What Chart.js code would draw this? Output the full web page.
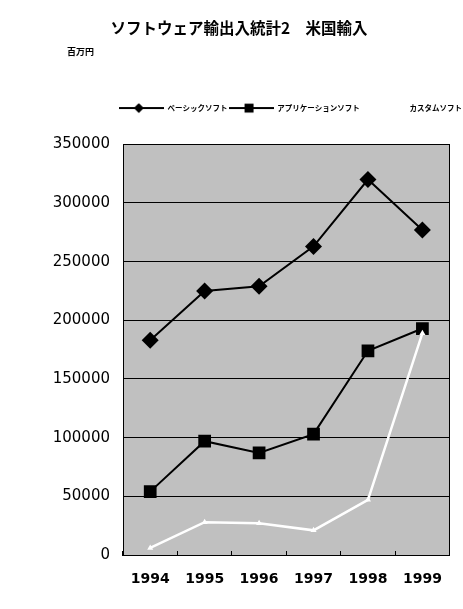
<!DOCTYPE html>
<html lang="ja">
<head>
<meta charset="utf-8">
<title>ソフトウェア輸出入統計2 米国輸入</title>
<script src="https://cdn.jsdelivr.net/npm/chart.js@4.4.1/dist/chart.umd.min.js"></script>
<style>
  html, body { margin: 0; padding: 0; background: #fff; }
  #wrap { position: relative; width: 463px; height: 609px; }
  #unit { position: absolute; left: 67px; top: 47px; font: bold 9px/10px 'Noto Sans CJK JP'; color: #000; }
</style>
</head>
<body>
<div id="wrap">
  <canvas id="chart" width="463" height="609"></canvas>
  <div id="unit">百万円</div>
</div>
<script>
// 年 (横軸)
const years = ['1994', '1995', '1996', '1997', '1998', '1999'];

// 米国輸入 (百万円) - グラフから読み取った値
const basicSoft = [183000, 225000, 229000, 263000, 320000, 277000];
const appSoft = [54000, 97000, 87000, 103000, 174000, 193000];
const customSoft = [6000, 28000, 27000, 21000, 47000, 189000];

const seriesNames = ['ベーシックソフト', 'アプリケーションソフト', 'カスタムソフト'];

const jpFont = "'Noto Sans CJK JP'";
const numFont = "'DejaVu Sans'";

// 凡例用: 線 + マーカーの小さな画像
function legendLine(color, marker) {
    const c = document.createElement('canvas');
    c.width = 45;
    c.height = 14;
    const ctx = c.getContext('2d');
    ctx.strokeStyle = color;
    ctx.fillStyle = color;
    ctx.lineWidth = 2;
    ctx.beginPath();
    ctx.moveTo(0, 7);
    ctx.lineTo(45, 7);
    ctx.stroke();
    if (marker === 'diamond') {
        ctx.beginPath();
        ctx.moveTo(20, 2);
        ctx.lineTo(25, 7);
        ctx.lineTo(20, 12);
        ctx.lineTo(15, 7);
        ctx.closePath();
        ctx.fill();
    } else if (marker === 'square') {
        ctx.fillRect(16, 2.5, 9, 9);
    }
    return c;
}

const legendImages = [
    legendLine('#000', 'diamond'),
    legendLine('#000', 'square'),
    legendLine('#fff', 'none')
];

// プロットエリアの灰色背景
const plotBackground = {
    id: 'plotBackground',
    beforeDraw(chart) {
        const { ctx, chartArea: a } = chart;
        ctx.save();
        ctx.fillStyle = '#c0c0c0';
        ctx.fillRect(a.left, a.top, a.right - a.left, a.bottom - a.top);
        ctx.restore();
    }
};

new Chart(document.getElementById('chart'), {
    type: 'line',
    data: {
        labels: years,
        datasets: [
            {
                label: seriesNames[0],
                data: basicSoft,
                borderColor: '#000',
                backgroundColor: '#000',
                borderWidth: 2,
                tension: 0,
                pointStyle: 'rectRot',
                pointRadius: 8.5,
                pointBorderWidth: 0,
                order: 2
            },
            {
                label: seriesNames[1],
                data: appSoft,
                borderColor: '#000',
                backgroundColor: '#000',
                borderWidth: 2,
                tension: 0,
                pointStyle: 'rect',
                pointRadius: 9,
                pointBorderWidth: 0,
                order: 1
            },
            {
                label: seriesNames[2],
                data: customSoft,
                borderColor: '#fff',
                backgroundColor: '#fff',
                borderWidth: 2.5,
                tension: 0,
                pointStyle: 'triangle',
                pointRadius: 3.5,
                pointBorderWidth: 0,
                order: 0
            }
        ]
    },
    options: {
        responsive: false,
        animation: false,
        layout: { padding: { left: 15, right: 0, top: 0, bottom: 0 } },
        plugins: {
            title: {
                display: true,
                text: 'ソフトウェア輸出入統計2　米国輸入',
                color: '#000',
                font: { family: jpFont, size: 15.5, weight: 'bold' },
                padding: { top: 18.7, bottom: 66 }
            },
            legend: {
                align: 'end',
                labels: {
                    usePointStyle: true,
                    pointStyleWidth: 45,
                    padding: 1,
                    color: '#000',
                    font: { family: jpFont, size: 7.5, weight: 'bold' },
                    generateLabels: chart => chart.data.datasets.map((ds, i) => ({
                        text: ds.label,
                        pointStyle: legendImages[i],
                        fillStyle: ds.borderColor,
                        strokeStyle: ds.borderColor,
                        lineWidth: 0,
                        hidden: false,
                        datasetIndex: i
                    }))
                }
            },
            tooltip: { enabled: false }
        },
        scales: {
            x: {
                offset: true,
                grid: { offset: true, drawOnChartArea: false, drawTicks: true, tickLength: -4, color: '#000' },
                border: { color: '#000', width: 1 },
                ticks: { color: '#000', padding: 20, font: { family: numFont, size: 14, weight: 'bold' } },
                afterFit: s => { s.height = 54; }
            },
            xTop: {
                type: 'category',
                position: 'top',
                grid: { display: false },
                ticks: { display: false },
                border: { display: true, color: '#000', width: 1 },
                afterFit: s => { s.height = 22.5; }
            },
            y: {
                min: 0,
                max: 350000,
                ticks: {
                    stepSize: 50000,
                    padding: 13,
                    color: '#000',
                    font: { family: numFont, size: 15 },
                    callback: v => String(v)
                },
                grid: { color: '#000', lineWidth: 1, drawTicks: false },
                border: { color: '#000', width: 1 },
                afterFit: s => { s.width = 108; }
            },
            yRight: {
                position: 'right',
                grid: { display: false },
                ticks: { display: false },
                border: { display: true, color: '#000', width: 1 },
                afterFit: s => { s.width = 13; }
            }
        }
    },
    plugins: [plotBackground]
});
</script>
</body>
</html>
